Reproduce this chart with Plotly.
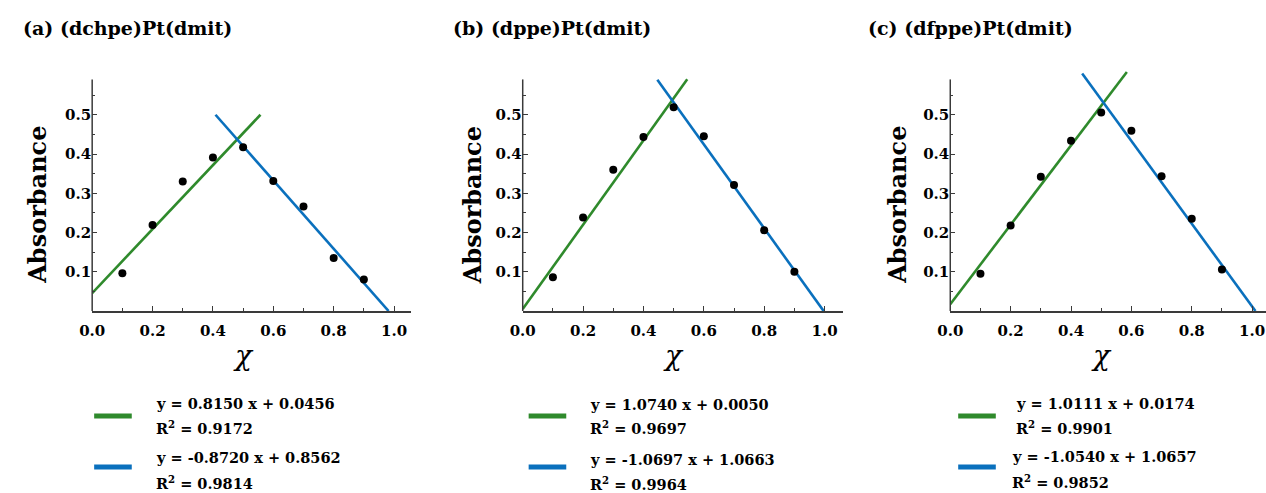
import plotly.graph_objects as go

W, H = 1266, 493

# ---------------- data ----------------
mole_fraction = [0.1, 0.2, 0.3, 0.4, 0.5, 0.6, 0.7, 0.8, 0.9]
abs_a = [0.096, 0.219, 0.330, 0.391, 0.417, 0.331, 0.266, 0.135, 0.080]
abs_b = [0.086, 0.238, 0.360, 0.443, 0.519, 0.445, 0.321, 0.206, 0.100]
abs_c = [0.095, 0.218, 0.342, 0.434, 0.506, 0.459, 0.343, 0.235, 0.106]

panel_titles = ["(a) (dchpe)Pt(dmit)", "(b) (dppe)Pt(dmit)", "(c) (dfppe)Pt(dmit)"]

rise_slope = [0.8150, 1.0740, 1.0111]
rise_intercept = [0.0456, 0.0050, 0.0174]
rise_r2 = [0.9172, 0.9697, 0.9901]
fall_slope = [-0.8720, -1.0697, -1.0540]
fall_intercept = [0.8562, 1.0663, 1.0657]
fall_r2 = [0.9814, 0.9964, 0.9852]

# x extent of each drawn fit line
rise_x_span = [(0.0, 0.5575), (0.0, 0.545), (0.0, 0.585)]
fall_x_span = [(0.4085, 0.982), (0.446, 0.997), (0.437, 1.011)]

x_tick_vals = [0.0, 0.2, 0.4, 0.6, 0.8, 1.0]
x_tick_text = ["0.0", "0.2", "0.4", "0.6", "0.8", "1.0"]
y_tick_vals = [0.1, 0.2, 0.3, 0.4, 0.5]
y_tick_text = ["0.1", "0.2", "0.3", "0.4", "0.5"]
y_minor_vals = [0.05, 0.15, 0.25, 0.35, 0.45, 0.55]
x_minor_vals = [0.1, 0.3, 0.5, 0.7, 0.9]

all_abs = [abs_a, abs_b, abs_c]

# ---------------- layout geometry (pixels) ----------------
GREEN = "#2f8a2c"
BLUE = "#0a70bd"
AXC = "#3a3a3a"
FONT = "DejaVu Serif"

y0_px = 311.0          # pixel row of y = 0
px_per_y = 392.5
y_top = 0.615          # range top (lines may extend slightly above spine)
spine_top = 0.59
axis_left_px = [80, 515, 947]
x_range_max = [1.055, 1.06, 1.046]
px_per_x = 305.0

def fx(px):
    return px / W

def fy(py):
    return (H - py) / H

dom_y = [fy(y0_px), fy(y0_px - y_top * px_per_y)]

fig = go.Figure()

title_x_px = [8, 443, 862]
ytitle_x_px = [24, 464, 893]
leg_line_x = [(82, 120), (521, 559), (955, 993)]
leg_text_x = [(142, 142), (581, 581), (1011, 1007)]
leg_text_y = [(403, 427, 457, 482), (404, 428, 459, 483), (403, 427, 456, 481)]
leg_line_y = [(416, 467), (416, 467), (416, 467)]

shapes = []
annotations = []

for i in range(3):
    xa = "x" if i == 0 else f"x{i+1}"
    ya = "y" if i == 0 else f"y{i+1}"
    xl = axis_left_px[i]
    xr = xl + x_range_max[i] * px_per_x
    xdom = [fx(xl), min(1.0, fx(xr))]

    # fits
    for slope, icpt, span, col in [
        (rise_slope[i], rise_intercept[i], rise_x_span[i], GREEN),
        (fall_slope[i], fall_intercept[i], fall_x_span[i], BLUE),
    ]:
        xs = [span[0], span[1]]
        ys = [slope * v + icpt for v in xs]
        fig.add_trace(go.Scatter(x=xs, y=ys, mode="lines",
                                 line=dict(color=col, width=2.6),
                                 xaxis=xa, yaxis=ya, showlegend=False,
                                 hoverinfo="skip"))
    # points
    fig.add_trace(go.Scatter(x=mole_fraction, y=all_abs[i], mode="markers",
                             marker=dict(color="black", size=8),
                             xaxis=xa, yaxis=ya, showlegend=False,
                             cliponaxis=False))

    axis_common = dict(showgrid=False, zeroline=False, ticks="inside",
                       tickcolor=AXC, tickwidth=1.3,
                       tickfont=dict(family=FONT, size=15, color="black",
                                     weight="bold"))
    fig.layout[("xaxis" if i == 0 else f"xaxis{i+1}")] = dict(
        domain=xdom, range=[0, x_range_max[i]], anchor=ya,
        tickvals=x_tick_vals, ticktext=x_tick_text, ticklen=5,
        showline=True, linecolor=AXC, linewidth=1.5, ticklabelstandoff=5,
        ticklabeloverflow="allow",
        minor=dict(tickvals=x_minor_vals, ticks="inside", ticklen=3,
                   tickcolor=AXC, tickwidth=1.2),
        **axis_common)
    fig.layout[("yaxis" if i == 0 else f"yaxis{i+1}")] = dict(
        domain=dom_y, range=[0, y_top], anchor=xa,
        tickvals=y_tick_vals, ticktext=y_tick_text, ticklen=5,
        showline=False,
        minor=dict(tickvals=y_minor_vals, ticks="inside", ticklen=3,
                   tickcolor=AXC, tickwidth=1.2),
        **axis_common)

    # y spine (stops at spine_top)
    shapes.append(dict(type="line", xref="paper", yref="paper",
                       x0=fx(xl), x1=fx(xl),
                       y0=fy(y0_px), y1=fy(y0_px - spine_top * px_per_y),
                       line=dict(color=AXC, width=1.5)))

    # panel title
    annotations.append(dict(text=panel_titles[i], xref="paper", yref="paper",
                            x=fx(title_x_px[i]), y=fy(28), xanchor="left",
                            yanchor="middle", showarrow=False,
                            font=dict(family=FONT, size=19, color="black",
                                      weight="bold")))
    # y axis title
    annotations.append(dict(text="Absorbance", xref="paper", yref="paper",
                            x=fx(ytitle_x_px[i]), y=fy(205), textangle=-90,
                            xanchor="center", yanchor="middle", showarrow=False,
                            font=dict(family=FONT, size=24, color="black",
                                      weight="bold")))
    # x axis title
    annotations.append(dict(text="<i>χ</i>", xref=xa, yref="paper",
                            x=0.5, y=fy(355), xanchor="center",
                            yanchor="middle", showarrow=False,
                            font=dict(family=FONT, size=28, color="black")))

    # legend
    for (ly, col) in zip(leg_line_y[i], [GREEN, BLUE]):
        shapes.append(dict(type="line", xref="paper", yref="paper",
                           x0=fx(leg_line_x[i][0]), x1=fx(leg_line_x[i][1]),
                           y0=fy(ly), y1=fy(ly),
                           line=dict(color=col, width=5)))
    eq_rise = f"y = {rise_slope[i]:.4f} x + {rise_intercept[i]:.4f}"
    eq_fall = f"y = {fall_slope[i]:.4f} x + {fall_intercept[i]:.4f}"
    r_rise = f"R<sup>2</sup> = {rise_r2[i]:.4f}"
    r_fall = f"R<sup>2</sup> = {fall_r2[i]:.4f}"
    texts = [eq_rise, r_rise, eq_fall, r_fall]
    xs_t = [leg_text_x[i][0], leg_text_x[i][0], leg_text_x[i][1], leg_text_x[i][1]]
    for t, tx, ty in zip(texts, xs_t, leg_text_y[i]):
        annotations.append(dict(text=t, xref="paper", yref="paper",
                                x=fx(tx), y=fy(ty), xanchor="left",
                                yanchor="middle", showarrow=False,
                                font=dict(family=FONT, size=14.5, color="black",
                                          weight="bold")))

fig.update_layout(width=W, height=H, margin=dict(l=0, r=0, t=0, b=0),
                  paper_bgcolor="white", plot_bgcolor="white",
                  shapes=shapes, annotations=annotations, showlegend=False)

fig.write_html("out.html")
